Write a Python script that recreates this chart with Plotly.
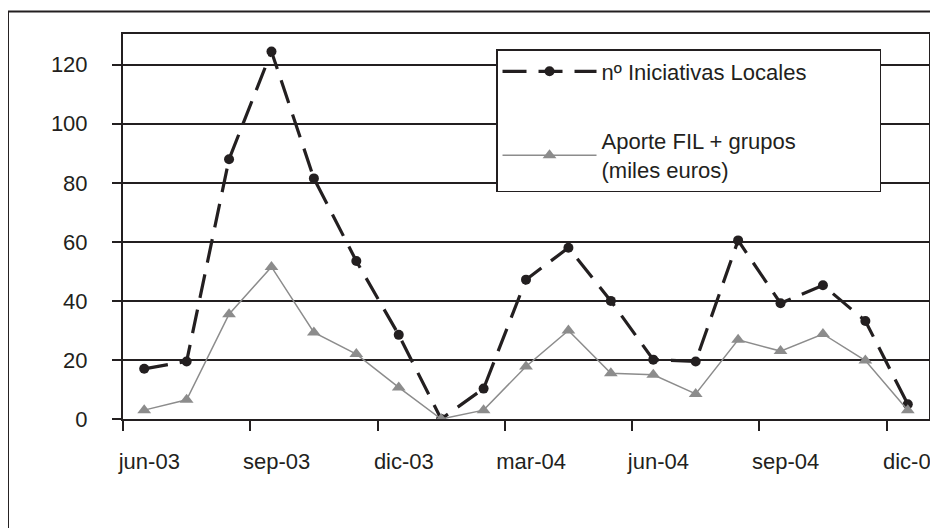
import plotly.graph_objects as go

months = ["jun-03", "jul-03", "ago-03", "sep-03", "oct-03", "nov-03", "dic-03",
          "ene-04", "feb-04", "mar-04", "abr-04", "may-04", "jun-04", "jul-04",
          "ago-04", "sep-04", "oct-04", "nov-04", "dic-04"]
iniciativas = [17, 19.5, 88, 124.5, 81.5, 53.5, 28.5, 0, 10.3, 47.2, 58, 40,
               20.1, 19.5, 60.5, 39.2, 45.3, 33.2, 5]
aporte = [3, 6.5, 35.5, 51.5, 29.3, 22, 10.7, 0, 3, 17.8, 30, 15.5, 15, 8.5,
          26.8, 23, 28.8, 19.8, 3]
series_names = ["nº Iniciativas Locales", "Aporte FIL + grupos<br>(miles euros)"]
label_months = ["jun-03", "sep-03", "dic-03", "mar-04", "jun-04", "sep-04", "dic-04"]
y_ticks = [0, 20, 40, 60, 80, 100, 120]

idx = list(range(len(months)))
label_pos = [months.index(m) + 0.12 for m in label_months]
boundary_pos = [months.index(m) - 0.5 for m in label_months]

FONT = "Liberation Sans, Arial, sans-serif"
INK = "#231f20"
PAD = "\u00a0" * 11  # widens the legend box like the original

fig = go.Figure()
fig.add_trace(go.Scatter(
    x=idx, y=iniciativas, name=series_names[0] + PAD, mode="lines+markers",
    line=dict(color=INK, width=3.2, dash="24px,12px"),
    marker=dict(symbol="circle", size=10, color=INK),
    legendgroup="a",
))
fig.add_trace(go.Scatter(
    x=idx, y=aporte, name=series_names[1], mode="lines+markers",
    line=dict(color="#8c8c8c", width=1.5),
    marker=dict(symbol="triangle-up", size=12, color="#8c8c8c"),
    legendgroup="b",
))

fig.update_layout(
    width=930, height=520,
    margin=dict(l=115, r=9, t=26, b=109),
    paper_bgcolor="white", plot_bgcolor="white",
    font=dict(family=FONT, size=22, color=INK),
    showlegend=True,
    legend=dict(
        x=0.4628, y=0.961, xanchor="left", yanchor="top",
        bgcolor="white", bordercolor=INK, borderwidth=1.5,
        font=dict(size=22, family=FONT, color=INK),
        tracegroupgap=38, traceorder="grouped", itemwidth=94,
    ),
    xaxis=dict(
        range=[-0.5, 18.5], showgrid=False, zeroline=False, automargin=False,
        tickmode="array", tickvals=label_pos, ticktext=label_months,
        ticks="", ticklabelstandoff=22, ticklabeloverflow="allow",
        showline=True, linecolor=INK, linewidth=2, mirror=True,
        minor=dict(tickmode="array", tickvals=boundary_pos, ticks="outside",
                   ticklen=10, tickwidth=2, tickcolor=INK, showgrid=False),
        fixedrange=True,
    ),
    yaxis=dict(
        range=[0, 130.4], tickmode="array", tickvals=y_ticks, automargin=False,
        showgrid=True, gridcolor=INK, gridwidth=1.5, zeroline=False,
        ticks="outside", ticklen=9, tickwidth=1.5, tickcolor=INK,
        ticklabelstandoff=20,
        showline=True, linecolor=INK, linewidth=2, mirror=True,
        fixedrange=True,
    ),
    shapes=[dict(type="rect", xref="paper", yref="paper",
                 x0=-0.1427, x1=1.03, y0=-0.33, y1=1.0584,
                 line=dict(color=INK, width=2), fillcolor="rgba(0,0,0,0)",
                 layer="below")],
)

fig.write_html("out.html")
